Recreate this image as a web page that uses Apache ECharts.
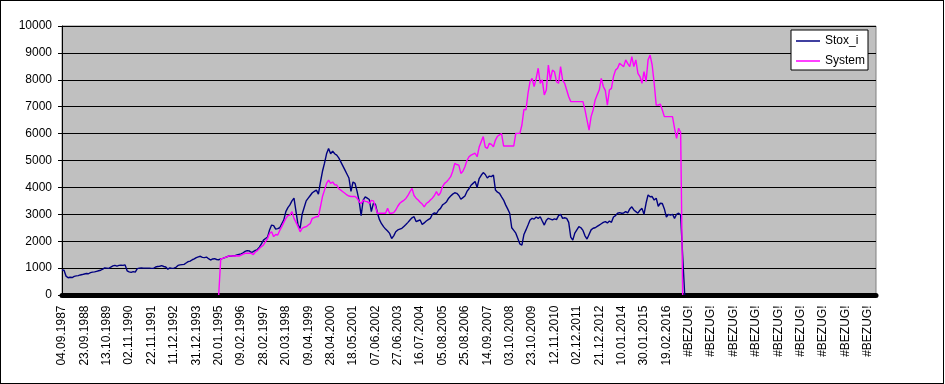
<!DOCTYPE html>
<html>
<head>
<meta charset="utf-8">
<script src="https://cdn.jsdelivr.net/npm/echarts@6/dist/echarts.min.js"></script>
<style>
html,body{margin:0;padding:0;background:#fff;}
#chart{position:absolute;left:0;top:0;width:945px;height:384px;}
#frame{position:absolute;left:0;top:0;width:944px;height:384px;border:1px solid #000;box-sizing:border-box;pointer-events:none;}
</style>
</head>
<body>
<div id="chart"></div>
<div id="frame"></div>
<script>
// Tick labels shown every 11 categories (each category = one sampled point)
const tickLabels = [
  "04.09.1987","23.09.1988","13.10.1989","02.11.1990","22.11.1991","11.12.1992",
  "31.12.1993","20.01.1995","09.02.1996","28.02.1997","20.03.1998","09.04.1999",
  "28.04.2000","18.05.2001","07.06.2002","27.06.2003","16.07.2004","05.08.2005",
  "25.08.2006","14.09.2007","03.10.2008","23.10.2009","12.11.2010","02.12.2011",
  "21.12.2012","10.01.2014","30.01.2015","19.02.2016",
  "#BEZUG!","#BEZUG!","#BEZUG!","#BEZUG!","#BEZUG!","#BEZUG!","#BEZUG!","#BEZUG!","#BEZUG!"
];
const pointsPerTick = 11;
const categoryCount = 401;

const seriesNames = ["Stox_i", "System"];

const stoxValues = [
  930,920,700,640,660,650,690,710,720,745,760,
  780,800,790,830,850,860,880,900,920,960,1010,
  1000,990,1040,1080,1100,1070,1100,1110,1100,1120,900,
  860,840,870,850,980,1000,1010,1000,1000,1000,1000,
  990,990,1040,1060,1070,1090,1060,1040,960,1010,990,
  1000,1030,1100,1120,1130,1140,1190,1240,1260,1310,1340,
  1390,1420,1440,1400,1390,1410,1350,1300,1340,1350,1320,
  1310,1340,1360,1390,1420,1450,1440,1460,1460,1490,1510,
  1530,1570,1620,1650,1640,1580,1610,1660,1690,1780,1900,
  2040,2100,2150,2420,2600,2580,2450,2470,2500,2650,2790,
  3100,3250,3350,3500,3600,3100,2600,2480,3000,3250,3500,
  3600,3700,3800,3850,3900,3750,4200,4600,4900,5250,5450,
  5250,5350,5250,5200,5100,4950,4800,4650,4500,4350,3850,
  4200,4150,3850,3500,2950,3530,3650,3600,3550,3100,3400,
  3380,3050,2800,2650,2540,2450,2380,2290,2100,2200,2350,
  2420,2450,2480,2550,2620,2700,2790,2870,2910,2730,2760,
  2790,2620,2680,2750,2800,2850,3000,3050,3020,3150,3220,
  3350,3400,3470,3600,3680,3750,3800,3780,3700,3560,3620,
  3680,3850,3950,4080,4150,4220,4000,4330,4450,4550,4480,
  4350,4420,4400,4460,3900,3820,3780,3650,3530,3350,3200,
  3040,2500,2400,2300,2100,1900,1850,2250,2420,2600,2790,
  2850,2820,2900,2850,2910,2750,2600,2780,2850,2820,2790,
  2830,2800,2950,3000,2850,2870,2850,2700,2150,2040,2300,
  2420,2540,2500,2400,2200,2080,2250,2420,2480,2500,2550,
  2600,2650,2700,2730,2680,2750,2700,2900,2950,3040,3060,
  3040,3050,3100,3050,3200,3280,3160,3100,3040,3150,3220,
  3000,3410,3720,3650,3660,3530,3600,3300,3410,3400,3200,
  2900,3000,2970,3000,2850,3000,3040,2970,1450,0
];

// System series starts at category index 77 (20.01.1995)
const systemFirstIndex = 77;
const systemValues = [
  0,1340,1360,1390,1420,1450,1450,1450,1450,1460,1450,
  1480,1520,1550,1550,1550,1550,1500,1600,1650,1730,1800,
  1860,1980,2100,2290,2350,2170,2250,2230,2400,2540,2700,
  2850,2950,2970,3100,2850,2700,2540,2350,2480,2520,2540,
  2600,2660,2850,2880,2910,2920,3280,3660,3900,4150,4270,
  4150,4200,4100,4090,3950,3900,3840,3780,3720,3680,3660,
  3660,3660,3600,3470,3400,3530,3480,3470,3410,3520,3500,
  3280,3040,3040,3040,3040,3040,3220,3040,3040,3060,3160,
  3300,3410,3470,3520,3590,3700,3840,3960,3700,3600,3530,
  3450,3380,3280,3400,3450,3530,3600,3700,3840,3700,3800,
  4030,4150,4210,4300,4400,4600,4890,4850,4830,4520,4600,
  4770,5000,5140,5200,5240,5270,5140,5500,5700,5890,5500,
  5450,5640,5600,5510,5760,5900,5950,6000,5540,5540,5540,
  5540,5540,5540,6010,6010,6010,6320,6900,6880,7500,7930,
  8050,7750,8050,8430,7870,8000,7440,7620,8550,7990,8360,
  8300,7930,7870,8490,7990,7870,7620,7370,7190,7190,7190,
  7190,7190,7190,7190,6880,6500,6130,6630,6880,7250,7440,
  7620,8050,7750,7600,7060,7620,7680,8120,8360,8430,8610,
  8550,8490,8740,8600,8490,8860,8490,8740,8240,8120,7870,
  8300,7930,8740,8920,8550,7870,7060,7060,7100,6880,6630,
  6630,6630,6630,6630,6200,5820,6200,6050,0
];

// Build category axis data and full-length series
const categories = [];
for (let i = 0; i < categoryCount; i++) {
  categories.push(i % pointsPerTick === 0 ? (tickLabels[i / pointsPerTick] || "") : "");
}
const stoxData = categories.map((_, i) => i < stoxValues.length ? stoxValues[i] : null);
const systemData = categories.map((_, i) => {
  const k = i - systemFirstIndex;
  return (k >= 0 && k < systemValues.length) ? systemValues[k] : null;
});

const font = "'Liberation Sans', Arial, sans-serif";
const chart = echarts.init(document.getElementById('chart'), null, {renderer: 'canvas'});
chart.setOption({
  animation: false,
  backgroundColor: '#ffffff',
  textStyle: {fontFamily: font},
  grid: {
    left: 62, right: 69, top: 26, bottom: 89,
    show: true, backgroundColor: '#c0c0c0', borderColor: '#808080', borderWidth: 1
  },
  legend: {
    orient: 'vertical',
    left: 791, top: 30,
    padding: [5, 3, 3, 5],
    icon: 'rect',
    itemWidth: 24, itemHeight: 1.5, itemGap: 8,
    backgroundColor: '#ffffff',
    borderColor: '#000000', borderWidth: 1, borderRadius: 0,
    textStyle: {fontFamily: font, fontSize: 12, color: '#000'},
    data: seriesNames
  },
  xAxis: {
    type: 'category',
    data: categories,
    boundaryGap: false,
    offset: 2.5,
    axisLine: {show: true, lineStyle: {color: '#000', width: 5}},
    axisTick: {show: false},
    splitLine: {show: false},
    axisLabel: {
      interval: pointsPerTick - 1,
      rotate: 90,
      margin: 8,
      fontSize: 12,
      fontFamily: font,
      color: '#000',
      hideOverlap: false
    }
  },
  yAxis: {
    type: 'value',
    min: 0, max: 10000, interval: 1000,
    axisLine: {show: true, lineStyle: {color: '#000', width: 1}},
    axisTick: {show: true, inside: false, length: 4, lineStyle: {color: '#000'}},
    splitLine: {show: true, lineStyle: {color: '#000', width: 1}},
    axisLabel: {margin: 10, fontSize: 12, fontFamily: font, color: '#000',
      formatter: v => String(v)}
  },
  series: [
    {
      name: seriesNames[0], type: 'line', data: stoxData,
      symbol: 'none', showSymbol: false, connectNulls: false,
      lineStyle: {color: '#000080', width: 1.4}, itemStyle: {color: '#000080'}
    },
    {
      name: seriesNames[1], type: 'line', data: systemData,
      symbol: 'none', showSymbol: false, connectNulls: false,
      lineStyle: {color: '#ff00ff', width: 1.4}, itemStyle: {color: '#ff00ff'}
    }
  ]
});
</script>
</body>
</html>
